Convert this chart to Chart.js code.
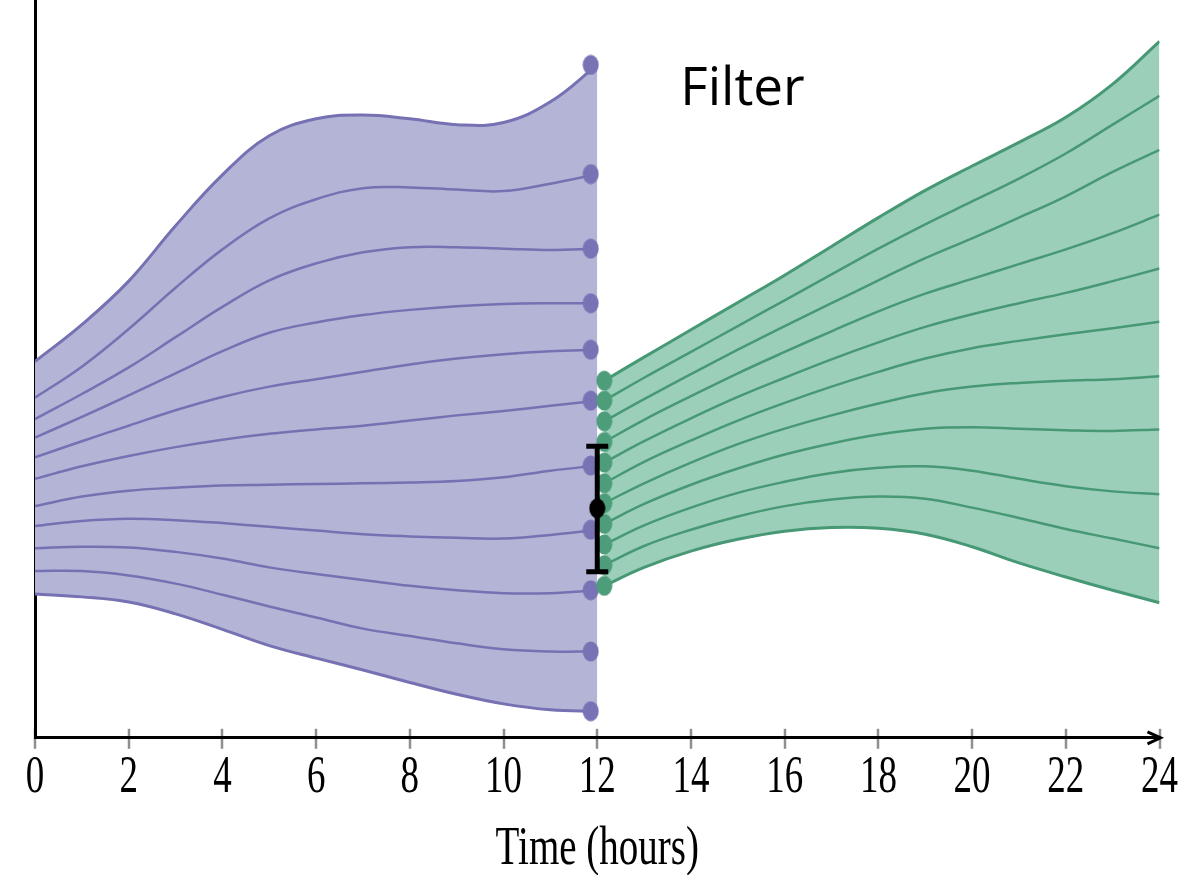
<!DOCTYPE html>
<html>
<head>
<meta charset="utf-8">
<script src="https://cdn.jsdelivr.net/npm/chart.js@4.4.1/dist/chart.umd.min.js"></script>
<style>
html,body{margin:0;padding:0;background:#ffffff;}
canvas{display:block;}
</style>
</head>
<body>
<canvas id="chart" width="1185" height="875"></canvas>
<script>
// ---------------- data ----------------
const xTicks = [0, 2, 4, 6, 8, 10, 12, 14, 16, 18, 20, 22, 24];
const axisTitle = 'Time (hours)';

// prior ensemble (purple), sampled each hour
const purpleTimes = [0, 1, 2, 3, 4, 5, 6, 7, 8, 9, 10, 11, 12];
const purpleCurves = [
  [51.0, 56.0, 61.9, 69.4, 76.3, 81.6, 83.9, 84.4, 83.9, 83.1, 83.4, 86.2, 91.2],
  [46.1, 50.3, 55.4, 61.0, 66.2, 70.4, 73.0, 74.5, 74.6, 74.3, 74.1, 75.1, 76.4],
  [43.2, 46.6, 50.2, 54.3, 58.4, 62.0, 64.3, 65.8, 66.5, 66.5, 66.3, 66.1, 66.3],
  [40.7, 43.5, 46.4, 49.4, 52.4, 54.9, 56.3, 57.3, 58.0, 58.5, 58.8, 58.9, 58.9],
  [38.0, 40.2, 42.3, 44.4, 46.2, 47.6, 48.6, 49.6, 50.6, 51.4, 52.0, 52.4, 52.6],
  [35.1, 36.8, 38.2, 39.4, 40.4, 41.2, 41.8, 42.3, 43.0, 43.7, 44.3, 45.0, 45.7],
  [31.4, 32.7, 33.5, 33.9, 34.2, 34.3, 34.4, 34.5, 34.6, 34.8, 35.3, 36.2, 36.9],
  [28.7, 29.4, 29.7, 29.5, 29.1, 28.6, 28.1, 27.6, 27.3, 27.1, 27.0, 27.5, 28.2],
  [25.7, 25.9, 25.8, 25.2, 24.3, 23.1, 22.2, 21.4, 20.6, 20.0, 19.6, 19.6, 20.0],
  [22.6, 22.6, 22.0, 20.9, 19.4, 17.8, 16.3, 14.8, 13.8, 12.8, 12.0, 11.7, 11.7],
  [19.5, 19.1, 18.4, 16.8, 14.7, 12.5, 10.8, 9.2, 7.5, 5.9, 4.6, 3.8, 3.6]
];
const purpleDotTime = 11.86;

// filtered ensemble (green)
const greenTimes = [12.15, 13, 14, 15, 16, 17, 18, 19, 20, 21, 22, 23, 24];
const greenCurves = [
  [48.4, 51.6, 55.3, 59.0, 62.7, 66.6, 70.5, 74.2, 77.5, 80.7, 84.1, 88.6, 94.4],
  [45.7, 48.8, 52.3, 55.8, 59.3, 62.8, 66.3, 69.6, 72.7, 75.8, 79.2, 83.1, 87.0],
  [42.9, 45.9, 49.3, 52.6, 55.8, 58.9, 62.0, 65.0, 67.7, 70.5, 73.4, 76.7, 79.7],
  [40.1, 43.1, 46.3, 49.4, 52.3, 55.1, 57.8, 60.2, 62.2, 64.2, 66.2, 68.4, 70.9],
  [37.3, 40.2, 43.3, 46.2, 48.8, 51.3, 53.6, 55.7, 57.4, 58.9, 60.3, 61.9, 63.6],
  [34.5, 37.4, 40.3, 43.0, 45.4, 47.6, 49.6, 51.4, 52.8, 53.8, 54.7, 55.5, 56.4],
  [31.8, 34.5, 37.3, 39.8, 41.9, 43.7, 45.3, 46.7, 47.6, 48.1, 48.4, 48.6, 49.0],
  [29.0, 31.7, 34.3, 36.5, 38.4, 39.9, 41.1, 41.9, 42.1, 41.9, 41.7, 41.6, 41.8],
  [26.2, 28.8, 31.2, 33.2, 34.7, 35.9, 36.6, 36.8, 36.2, 35.1, 34.1, 33.4, 33.0],
  [23.4, 26.0, 28.2, 30.0, 31.4, 32.3, 32.7, 32.4, 31.2, 29.8, 28.3, 27.0, 25.7],
  [20.6, 23.1, 25.3, 26.9, 28.0, 28.5, 28.4, 27.6, 25.9, 23.7, 21.8, 20.0, 18.3]
];

// observation with error bar
const obsTime = 12;
const obsMean = 31.1;
const obsLow = 22.5;
const obsHigh = 39.5;

// annotation
const filterLabel = 'Filter';
const filterTime = 15.1;
const filterLevel = 87.8;

// ---------------- styles ----------------
const PURPLE_LINE = '#7571b2';
const PURPLE_FILL = '#b4b4d6';
const PURPLE_DOT = '#7773b4';
const GREEN_LINE = '#479874';
const GREEN_FILL = '#9ccfb9';
const GREEN_DOT = '#4e9d7a';
const SERIF = '"Liberation Serif", "Times New Roman", serif';
const TEXT_STRETCH = 1.4;
const TITLE_SIZE = 39, TITLE_LH = 1.2, TITLE_PAD_BOTTOM = 2;

function ellipseDot(w, h, color) {
  const c = document.createElement('canvas');
  c.width = w; c.height = h;
  const g = c.getContext('2d');
  g.fillStyle = color;
  g.beginPath();
  g.ellipse(w / 2, h / 2, w / 2 - 0.5, h / 2 - 0.5, 0, 0, Math.PI * 2);
  g.fill();
  return c;
}
const purpleDotImg = ellipseDot(17, 21, PURPLE_DOT);
const greenDotImg = ellipseDot(17, 21, GREEN_DOT);
const blackDotImg = ellipseDot(17, 21, '#000000');

// ---------------- datasets ----------------
const datasets = [];
datasets.push({
  label: 'obs', data: [{x: obsTime, y: obsMean}], showLine: false,
  pointStyle: blackDotImg, pointRadius: 9, order: 0
});
datasets.push({
  label: 'obsErr', data: [{x: obsTime, y: obsHigh}, {x: obsTime, y: obsLow}],
  borderColor: '#000', borderWidth: 5, pointStyle: 'line', pointRadius: 11,
  pointBorderWidth: 5, pointBorderColor: '#000', order: 0, fill: false, tension: 0
});
datasets.push({
  label: 'greenDots', data: greenCurves.map(c => ({x: greenTimes[0], y: c[0]})),
  showLine: false, pointStyle: greenDotImg, pointRadius: 9, order: 1
});
const greenStart = datasets.length;
greenCurves.forEach((c, i) => {
  const edge = (i === 0 || i === greenCurves.length - 1);
  datasets.push({
    label: 'green' + i, data: c.map((v, k) => ({x: greenTimes[k], y: v})),
    borderColor: GREEN_LINE, borderWidth: edge ? 3 : 2.5, pointRadius: 0,
    tension: 0.4, order: 2,
    fill: i === 0 ? {target: greenStart + greenCurves.length - 1, above: GREEN_FILL, below: GREEN_FILL} : false,
    backgroundColor: GREEN_FILL
  });
});
datasets.push({
  label: 'purpleDots', data: purpleCurves.map(c => ({x: purpleDotTime, y: c[c.length - 1]})),
  showLine: false, pointStyle: purpleDotImg, pointRadius: 9, order: 3
});
const purpleStart = datasets.length;
purpleCurves.forEach((c, i) => {
  const edge = (i === 0 || i === purpleCurves.length - 1);
  datasets.push({
    label: 'purple' + i, data: c.map((v, k) => ({x: purpleTimes[k], y: v})),
    borderColor: PURPLE_LINE, borderWidth: edge ? 3 : 2.5, pointRadius: 0,
    tension: 0.4, order: 4,
    fill: i === 0 ? {target: purpleStart + purpleCurves.length - 1, above: PURPLE_FILL, below: PURPLE_FILL} : false,
    backgroundColor: PURPLE_FILL
  });
});

// ---------------- plugins ----------------
const axisDecor = {
  id: 'axisDecor',
  beforeDraw(chart) {
    const s = chart.scales.x;
    if (!s._stretched) {
      s._stretched = true;
      const origLabels = s.drawLabels;
      s.drawLabels = function (area) {
        const c = this.ctx;
        c.save();
        c.translate(0, this.top); c.scale(1, TEXT_STRETCH); c.translate(0, -this.top);
        origLabels.call(this, area);
        c.restore();
      };
      const origTitle = s.drawTitle;
      s.drawTitle = function (area) {
        const c = this.ctx;
        const cy = this.bottom - TITLE_PAD_BOTTOM - TITLE_SIZE * TITLE_LH / 2;
        c.save();
        c.translate(0, cy); c.scale(1, TEXT_STRETCH); c.translate(0, -cy);
        origTitle.call(this, area);
        c.restore();
      };
    }
    const c = chart.ctx, y = s.top;
    c.save();
    c.strokeStyle = '#8f8f8f';
    c.lineWidth = 2.5;
    s.ticks.forEach(t => {
      const px = Math.round(s.getPixelForValue(t.value));
      c.beginPath(); c.moveTo(px, y - 9); c.lineTo(px, y + 11); c.stroke();
    });
    c.restore();
  },
  afterDraw(chart) {
    const c = chart.ctx, s = chart.scales.x, ys = chart.scales.y;
    const y = s.top, xr = s.right;
    c.save();
    c.strokeStyle = '#000';
    c.fillStyle = '#000';
    c.lineWidth = 3;
    c.beginPath();
    c.moveTo(xr - 12, y - 6); c.lineTo(xr + 1, y); c.lineTo(xr - 12, y + 6);
    c.stroke();
    c.font = '53px "Open Sans", "Noto Sans", sans-serif';
    c.textAlign = 'center';
    c.textBaseline = 'middle';
    c.fillText(filterLabel, s.getPixelForValue(filterTime), ys.getPixelForValue(filterLevel));
    c.restore();
  }
};

new Chart(document.getElementById('chart'), {
  type: 'line',
  data: { datasets },
  options: {
    responsive: false,
    animation: false,
    events: [],
    layout: { autoPadding: false, padding: { left: 35, right: 23, top: 0, bottom: 0 } },
    plugins: {
      legend: { display: false },
      tooltip: { enabled: false },
      title: { display: false },
      filler: { drawTime: 'beforeDatasetsDraw' }
    },
    scales: {
      x: {
        type: 'linear', min: 0, max: 24,
        afterBuildTicks: (scale) => { scale.ticks = xTicks.map(v => ({value: v})); },
        ticks: {
          color: '#000', padding: 7, maxRotation: 0, autoSkip: false,
          font: { family: SERIF, size: 37, lineHeight: 1.2 }
        },
        grid: { display: true, drawOnChartArea: false, drawTicks: false },
        border: { display: true, color: '#000', width: 3 },
        title: {
          display: true, text: axisTitle, color: '#000',
          font: { family: SERIF, size: TITLE_SIZE, lineHeight: TITLE_LH },
          padding: { top: 30, bottom: TITLE_PAD_BOTTOM }
        }
      },
      y: {
        type: 'linear', min: 0, max: 100,
        ticks: { display: false },
        grid: { display: true, drawOnChartArea: false, drawTicks: false },
        border: { display: true, color: '#000', width: 3 }
      }
    }
  },
  plugins: [axisDecor]
});
</script>
</body>
</html>
